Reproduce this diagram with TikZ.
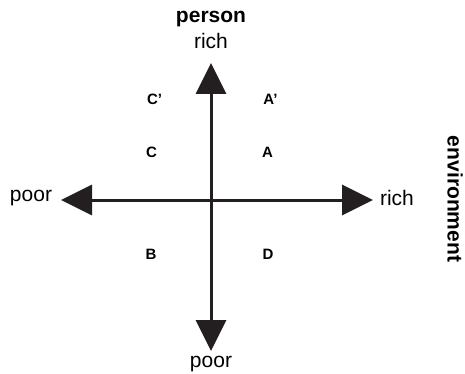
\documentclass[tikz,border=0pt]{standalone}
\usepackage{fontspec}
\setmainfont{Liberation Sans}
\usetikzlibrary{arrows.meta}
\definecolor{axis}{HTML}{231F20}
\tikzset{
  axisarrow/.style={draw=axis,line width=3pt,-{Triangle[length=31pt,width=30pt]}},
  lab/.style={inner sep=0pt,font=\fontsize{21}{24}\selectfont},
  title/.style={inner sep=0pt,font=\fontsize{21}{24}\selectfont\bfseries},
  quad/.style={inner sep=0pt,font=\fontsize{15}{17}\selectfont\bfseries}
}
\begin{document}
\begin{tikzpicture}[x=1pt,y=-1pt]
\useasboundingbox (0,0) rectangle (465,374);
\coordinate (o) at (211,200);
\coordinate (top) at (211,63);
\coordinate (bot) at (211,351);
\coordinate (left) at (61,200);
\coordinate (right) at (373,200);
\draw[axisarrow] (o) -- (top);
\draw[axisarrow] (o) -- (bot);
\draw[axisarrow] (o) -- (left);
\draw[axisarrow] (o) -- (right);
\node[title] (person) at (211,19) {person};
\node[lab] (prich) at (211,41) {rich};
\node[lab] (ppoor) at (211,364) {poor};
\node[lab] (epoor) at (31,198) {poor};
\node[lab] (erich) at (397,198) {rich};
\node[title,rotate=-90] (env) at (455,199) {environment};
\node[quad] (cp) at (154.5,99.5) {C’};
\node[quad] (ap) at (270.5,99.5) {A’};
\node[quad] (c) at (151.5,152.5) {C};
\node[quad] (a) at (267.5,152.5) {A};
\node[quad] (b) at (151,254.5) {B};
\node[quad] (d) at (268,254.5) {D};
\end{tikzpicture}
\end{document}
